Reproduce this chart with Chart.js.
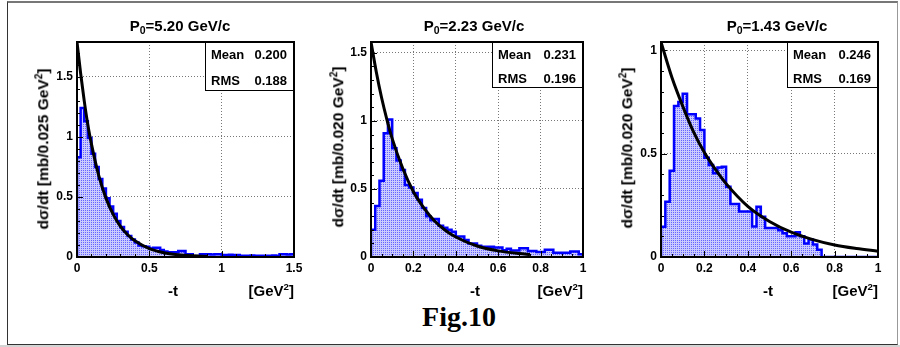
<!DOCTYPE html>
<html>
<head>
<meta charset="utf-8">
<script src="https://cdn.jsdelivr.net/npm/chart.js@4.4.1/dist/chart.umd.min.js"></script>
<style>
  body { margin: 0; width: 900px; height: 347px; position: relative; overflow: hidden; background: #fff;
         font-family: "Liberation Sans", Arial, sans-serif; font-weight: bold; color: #000; }
  .frame { position: absolute; left: 7px; top: 1px; width: 891px; height: 344px; box-sizing: border-box;
           border-left: 1px solid #333; border-bottom: 1px solid #333; border-top: 2px solid #777; border-right: 1px solid #999; }
  .strip { position: absolute; left: 0; top: 345px; width: 900px; height: 2px; background: #d4d4d4; }
  canvas { position: absolute; }
  .c { position: absolute; transform: translate(-50%, -50%); white-space: nowrap; line-height: 1; }
  .r { position: absolute; transform: translate(-100%, -50%); white-space: nowrap; line-height: 1; }
  .yt { position: absolute; transform: translate(-50%, -50%) rotate(-90deg); white-space: nowrap; line-height: 1; font-size: 15.5px; }
  .title { font-size: 15px; }
  .xl { font-size: 15px; }
  sub { font-size: 70%; vertical-align: -0.3em; line-height: 0; }
  sup { font-size: 65%; vertical-align: 0.6em; line-height: 0; }
  .stats { position: absolute; background: #fff; border: 1.5px solid #000; box-sizing: border-box; font-size: 13px; }
  .stats span { position: absolute; transform: translateY(-50%); line-height: 1; white-space: nowrap; }
  .fig { position: absolute; transform: translate(-50%, -50%); font-family: "Liberation Serif", "Times New Roman", serif;
         font-size: 28px; font-weight: bold; line-height: 1; }
</style>
</head>
<body>
<div class="frame"></div>
<div class="strip"></div>

<canvas id="c1"></canvas>
<canvas id="c2"></canvas>
<canvas id="c3"></canvas>

<!-- panel 1 -->
<div class="c title" style="left:180px;top:25px">P<sub>0</sub>=5.20 GeV/c</div>
<div class="yt" style="left:43px;top:149px">dσ/dt [mb/0.025 GeV<sup>2</sup>]</div>
<div class="c xl" style="left:173px;top:290px">-t</div>
<div class="r xl" style="left:294px;top:290px">[GeV<sup>2</sup>]</div>
<div class="stats" style="left:205px;top:42px;width:89px;height:49px">
  <span style="left:5px;top:11px">Mean</span><span style="right:6px;top:11px">0.200</span>
  <span style="left:5px;top:37px">RMS</span><span style="right:6px;top:37px">0.188</span>
</div>

<!-- panel 2 -->
<div class="c title" style="left:474px;top:25px">P<sub>0</sub>=2.23 GeV/c</div>
<div class="yt" style="left:338px;top:147px">dσ/dt [mb/0.020 GeV<sup>2</sup>]</div>
<div class="c xl" style="left:475px;top:290px">-t</div>
<div class="r xl" style="left:583px;top:290px">[GeV<sup>2</sup>]</div>
<div class="stats" style="left:492px;top:42px;width:91px;height:46px">
  <span style="left:5px;top:11px">Mean</span><span style="right:6px;top:11px">0.231</span>
  <span style="left:5px;top:35px">RMS</span><span style="right:6px;top:35px">0.196</span>
</div>

<!-- panel 3 -->
<div class="c title" style="left:777px;top:25px">P<sub>0</sub>=1.43 GeV/c</div>
<div class="yt" style="left:627px;top:148px">dσ/dt [mb/0.020 GeV<sup>2</sup>]</div>
<div class="c xl" style="left:768px;top:290px">-t</div>
<div class="r xl" style="left:878px;top:290px">[GeV<sup>2</sup>]</div>
<div class="stats" style="left:787px;top:42px;width:91px;height:46px">
  <span style="left:5px;top:11px">Mean</span><span style="right:6px;top:11px">0.246</span>
  <span style="left:5px;top:35px">RMS</span><span style="right:6px;top:35px">0.169</span>
</div>

<div class="fig" style="left:459px;top:317px">Fig.10</div>

<script>
// bin contents (dsigma/dt per bin)
const binWidth1 = 0.025;
const hist1 = [
  0.83, 1.24, 1.13, 0.99, 0.86, 0.75, 0.65, 0.57, 0.49, 0.42,
  0.36, 0.30, 0.25, 0.21, 0.175, 0.145, 0.12, 0.095, 0.09, 0.085,
  0.07, 0.078, 0.078, 0.058, 0.045, 0.04, 0.04, 0.04, 0.05, 0.05,
  0.022, 0.022, 0.005, 0.008, 0.022, 0.022, 0.022, 0.02, 0.022, 0.022,
  0.017, 0.017, 0.018, 0.016, 0.017, 0.011, 0.011, 0.01, 0.012, 0.011,
  0.011, 0.01, 0.011, 0.011, 0.012, 0.01, 0.022, 0.022, 0.02, 0.022
];
const binWidth2 = 0.02;
const hist2 = [
  0.20, 0.375, 0.56, 0.91, 1.01, 0.80, 0.71, 0.64, 0.53, 0.51,
  0.47, 0.42, 0.36, 0.30, 0.27, 0.28, 0.23, 0.215, 0.20, 0.186,
  0.15, 0.15, 0.125, 0.10, 0.10, 0.083, 0.076, 0.076, 0.076, 0.07,
  0.07, 0.05, 0.06, 0.047, 0.047, 0.064, 0.064, 0.044, 0.044, 0.036,
  0.036, 0.054, 0.054, 0.032, 0.032, 0.032, 0.032, 0.04, 0.04, 0.02
];
const binWidth3 = 0.02;
const hist3 = [
  0.146, 0.267, 0.417, 0.73, 0.75, 0.79, 0.69, 0.69, 0.67, 0.614,
  0.48, 0.445, 0.405, 0.433, 0.436, 0.34, 0.256, 0.256, 0.22, 0.22,
  0.22, 0.147, 0.243, 0.195, 0.14, 0.14, 0.14, 0.13, 0.115, 0.10,
  0.10, 0.12, 0.10, 0.065, 0.085, 0.06, 0.035, 0, 0, 0,
  0, 0, 0, 0, 0, 0, 0, 0, 0, 0
];

// fitted curves
const curveT1 = [0, 0.025, 0.05, 0.075, 0.1, 0.15, 0.2, 0.25, 0.3, 0.35, 0.4, 0.5, 0.6, 0.7, 0.8, 0.9];
const curve1  = [1.79, 1.53, 1.30, 1.10, 0.94, 0.68, 0.49, 0.355, 0.255, 0.185, 0.135, 0.07, 0.036, 0.019, 0.01, 0.005];
const curveT2 = [0, 0.025, 0.05, 0.075, 0.1, 0.15, 0.2, 0.25, 0.3, 0.35, 0.4, 0.5, 0.6, 0.7, 0.75];
const curve2  = [1.58, 1.36, 1.17, 1.01, 0.87, 0.65, 0.48, 0.36, 0.265, 0.197, 0.147, 0.081, 0.045, 0.025, 0.018];
const curveT3 = [0, 0.05, 0.1, 0.15, 0.2, 0.25, 0.3, 0.4, 0.5, 0.6, 0.7, 0.8, 0.9, 1.0];
const curve3  = [1.04, 0.87, 0.73, 0.605, 0.505, 0.425, 0.355, 0.245, 0.172, 0.12, 0.084, 0.058, 0.041, 0.028];

// axis ranges / tick steps
const xTicks1 = { max: 1.5, step: 0.5, minor: 0.1 };
const xTicks2 = { max: 1, step: 0.2, minor: 0.05 };
const xTicks3 = { max: 1, step: 0.2, minor: 0.05 };
const yTicks1 = { max: 1.79, step: 0.5, minor: 0.1 };
const yTicks2 = { max: 1.58, step: 0.5, minor: 0.1 };
const yTicks3 = { max: 1.04, step: 0.5, minor: 0.1 };

Chart.defaults.font.family = '"Liberation Sans", Arial, sans-serif';
Chart.defaults.color = '#000';

function dotPattern() {
  const c = document.createElement('canvas');
  c.width = 2; c.height = 2;
  const g = c.getContext('2d');
  g.fillStyle = 'rgba(196,196,255,0.9)';
  g.fillRect(0, 0, 2, 2);
  g.fillStyle = '#6464ff';
  g.fillRect(0, 0, 1, 1);
  return g.createPattern(c, 'repeat');
}

// frame round the plot area plus ROOT-style inside ticks
const framePlugin = {
  id: 'frame',
  afterDatasetsDraw(chart) {
    const { ctx, chartArea: a, scales: { x, y } } = chart;
    const o = chart.options.plugins.frame;
    ctx.save();
    ctx.strokeStyle = '#000';
    ctx.lineWidth = 1;
    ctx.beginPath();
    for (let k = 0; k * o.x.minor <= o.x.max + 1e-9; k++) {
      const v = k * o.x.minor;
      const major = Math.abs(v / o.x.step - Math.round(v / o.x.step)) < 1e-6;
      const px = Math.round(x.getPixelForValue(v)) + 0.5;
      ctx.moveTo(px, a.bottom);
      ctx.lineTo(px, a.bottom - (major ? 6 : 3));
    }
    for (let k = 0; k * o.y.minor <= o.y.max + 1e-9; k++) {
      const v = k * o.y.minor;
      const major = Math.abs(v / o.y.step - Math.round(v / o.y.step)) < 1e-6;
      const py = Math.round(y.getPixelForValue(v)) + 0.5;
      ctx.moveTo(a.left, py);
      ctx.lineTo(a.left + (major ? 6 : 3), py);
    }
    ctx.stroke();
    ctx.lineWidth = 2;
    ctx.strokeRect(a.left, a.top, a.right - a.left, a.bottom - a.top);
    ctx.restore();
  }
};

const panels = [
  { id: 'c1', left: 77,  right: 294, binWidth: binWidth1, hist: hist1, curveT: curveT1, curve: curve1, xt: xTicks1, yt: yTicks1 },
  { id: 'c2', left: 371, right: 583, binWidth: binWidth2, hist: hist2, curveT: curveT2, curve: curve2, xt: xTicks2, yt: yTicks2 },
  { id: 'c3', left: 661, right: 878, binWidth: binWidth3, hist: hist3, curveT: curveT3, curve: curve3, xt: xTicks3, yt: yTicks3 }
];

const tickFont = { size: 12, weight: 'bold' };
const plainNumber = v => String(parseFloat(Number(v).toFixed(3)));

panels.forEach(p => {
  const cv = document.getElementById(p.id);
  cv.width = p.right - p.left + 30 + 14;
  cv.height = 252;
  cv.style.left = (p.left - 30) + 'px';
  cv.style.top = '30px';

  // step outline: up from zero at the first edge, down to zero at the last
  const n = p.hist.length;
  const histPts = [{ x: 0, y: 0 }];
  p.hist.forEach((v, i) => histPts.push({ x: i * p.binWidth, y: v }));
  histPts.push({ x: n * p.binWidth, y: p.hist[n - 1] }, { x: n * p.binWidth, y: 0 });

  new Chart(cv, {
    type: 'line',
    data: {
      datasets: [
        {
          data: p.curveT.map((t, i) => ({ x: t, y: p.curve[i] })),
          borderColor: '#000', borderWidth: 3, pointRadius: 0,
          cubicInterpolationMode: 'monotone', fill: false, order: 0
        },
        {
          data: histPts, stepped: 'before',
          borderColor: '#0000ff', borderWidth: 2.5, pointRadius: 0, borderJoinStyle: 'miter',
          fill: 'origin', backgroundColor: dotPattern(), order: 1
        }
      ]
    },
    options: {
      responsive: false, animation: false, devicePixelRatio: 1,
      layout: { padding: { top: 12, right: 14, left: 0, bottom: 0 } },
      plugins: {
        legend: { display: false }, tooltip: { enabled: false },
        frame: { x: p.xt, y: p.yt }
      },
      scales: {
        x: {
          type: 'linear', min: 0, max: p.xt.max,
          afterFit(s) { s.height = 25; },
          ticks: { stepSize: p.xt.step, includeBounds: false, padding: 4, maxRotation: 0, autoSkip: false,
                   font: tickFont, color: '#000', callback: plainNumber },
          grid: { color: '#777', lineWidth: 1, drawTicks: false },
          border: { display: false, dash: [1, 2] }
        },
        y: {
          min: 0, max: p.yt.max,
          afterFit(s) { s.width = 30; },
          ticks: { stepSize: p.yt.step, includeBounds: false, padding: 4, autoSkip: false,
                   font: tickFont, color: '#000', callback: plainNumber },
          grid: { color: '#777', lineWidth: 1, drawTicks: false },
          border: { display: false, dash: [1, 2] }
        }
      }
    },
    plugins: [framePlugin]
  });
});
</script>
</body>
</html>
